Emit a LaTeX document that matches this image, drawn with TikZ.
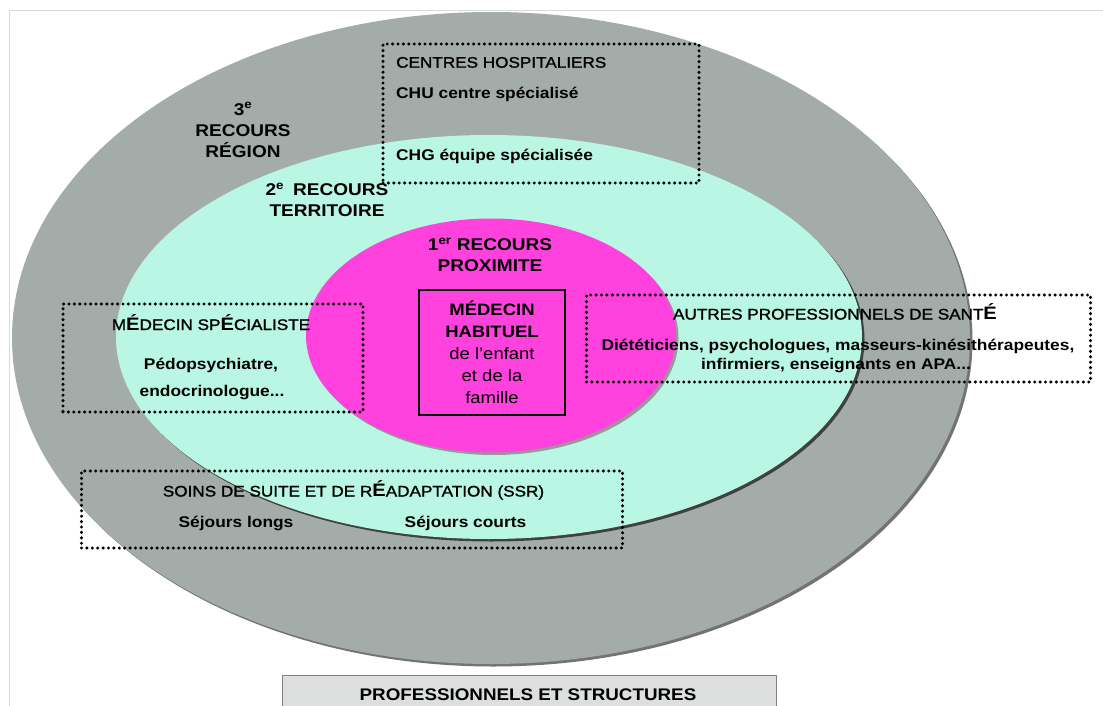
\documentclass[tikz,border=0pt]{standalone}
\usepackage{fontspec}
\setmainfont{Liberation Sans}[FakeStretch=1.12]
\newfontfamily\titrefont{Liberation Sans}[FakeStretch=1.12, FakeBold=1.5]
\definecolor{colorRegion}{RGB}{164,172,170}
\definecolor{colorTerritoire}{RGB}{185,246,228}
\definecolor{colorProximite}{RGB}{255,66,222}
\definecolor{colorLegende}{RGB}{221,223,223}
\colorlet{colorCadre}{black!15}
\usetikzlibrary{positioning, shapes.geometric, shadows}
\newcommand{\Egrand}{{\fontsize{18}{18}\selectfont\normalfont\bfseries É}}
\tikzset{
  zone/.style={ellipse, inner sep=0pt, outer sep=0pt, drop shadow={shadow xshift=2.5pt, shadow yshift=-2.5pt, opacity=1, fill=#1}},
  pointille/.style={draw, line width=3.4pt, dash pattern=on 0pt off 5.4pt, line cap=round, inner sep=0pt},
  recours/.style={font=\fontsize{17}{21}\selectfont\bfseries, align=center, inner sep=0pt},
  titre/.style={font=\fontsize{15.3}{19}\selectfont\titrefont, inner sep=0pt},
  soustitre/.style={font=\fontsize{15.5}{19}\selectfont\bfseries, inner sep=0pt},
  legende/.style={draw=black!50, fill=colorLegende, line width=1pt, inner sep=0pt}
}
\begin{document}
\begin{tikzpicture}[x=1pt, y=-1pt]
\useasboundingbox (0,0) rectangle (1103,706);
\clip (0,0) rectangle (1103,706);
\draw[colorCadre, line width=1pt] (1103,11) -- (9,11) -- (9,706);
\node[zone=black!55, fill=colorRegion, minimum width=958pt, minimum height=652pt] (region) at (491,338) {};
\node[zone=black!75, fill=colorTerritoire, minimum width=746pt, minimum height=404pt] (territoire) at (489,337) {};
\node[zone=black!40, fill=colorProximite, minimum width=370pt, minimum height=234pt] (proximite) at (491,335.5) {};
\node[recours] (lblRegion) at (243,130) {3\textsuperscript{e}\\RECOURS\\RÉGION};
\node[recours] (lblTerritoire) at (327,200) {2\textsuperscript{e}\hspace{9pt}RECOURS\\TERRITOIRE};
\node[recours] (lblProximite) at (490,255) {1\textsuperscript{er} RECOURS\\PROXIMITE};
\node[draw, line width=2.5pt, minimum width=146pt, minimum height=125pt, inner sep=0pt, align=center, font=\fontsize{16.5}{22}\selectfont] (habituel) at (492,352.5) {\textbf{MÉDECIN}\\\textbf{HABITUEL}\\de l’enfant\\et de la\\famille};
\node[pointille, minimum width=316pt, minimum height=139pt] (hospitaliers) at (541,113.5) {};
\node[pointille, minimum width=300pt, minimum height=108pt] (specialiste) at (213,358) {};
\node[pointille, minimum width=504pt, minimum height=87pt] (autres) at (838.5,338.5) {};
\node[pointille, minimum width=541pt, minimum height=77pt] (ssr) at (352,509.5) {};
\node[titre, anchor=base west] (chTitre) at (396,67.7) {CENTRES HOSPITALIERS};
\node[soustitre, anchor=base west] (chu) at (396,98.3) {CHU centre spécialisé};
\node[soustitre, anchor=base west] (chg) at (396,160.7) {CHG équipe spécialisée};
\node[titre, anchor=base] (specTitre) at (211,330) {M\Egrand DECIN SP\Egrand CIALISTE};
\node[soustitre, anchor=base] (pedo) at (211,369) {Pédopsychiatre,};
\node[soustitre, anchor=base] (endo) at (212,396) {endocrinologue...};
\node[titre, anchor=base] (autresTitre) at (835,319.5) {AUTRES PROFESSIONNELS DE SANT\Egrand};
\node[soustitre, anchor=base] (dieteticiens) at (838,350.5) {Diététiciens, psychologues, masseurs-kinésithérapeutes,};
\node[soustitre, anchor=base] (infirmiers) at (836,369.5) {infirmiers, enseignants en APA...};
\node[titre, anchor=base] (ssrTitre) at (353.5,496.5) {SOINS DE SUITE ET DE R\Egrand ADAPTATION (SSR)};
\node[soustitre, anchor=base] (longs) at (236,527) {Séjours longs};
\node[soustitre, anchor=base] (courts) at (465.5,527) {Séjours courts};
\node[legende, minimum width=494pt, minimum height=60pt, anchor=north west] (legendeCadre) at (282,675) {};
\node[soustitre, font=\fontsize{16.8}{20}\selectfont\bfseries, anchor=base] (legendeTexte) at (528,700) {PROFESSIONNELS ET STRUCTURES};
\end{tikzpicture}
\end{document}
